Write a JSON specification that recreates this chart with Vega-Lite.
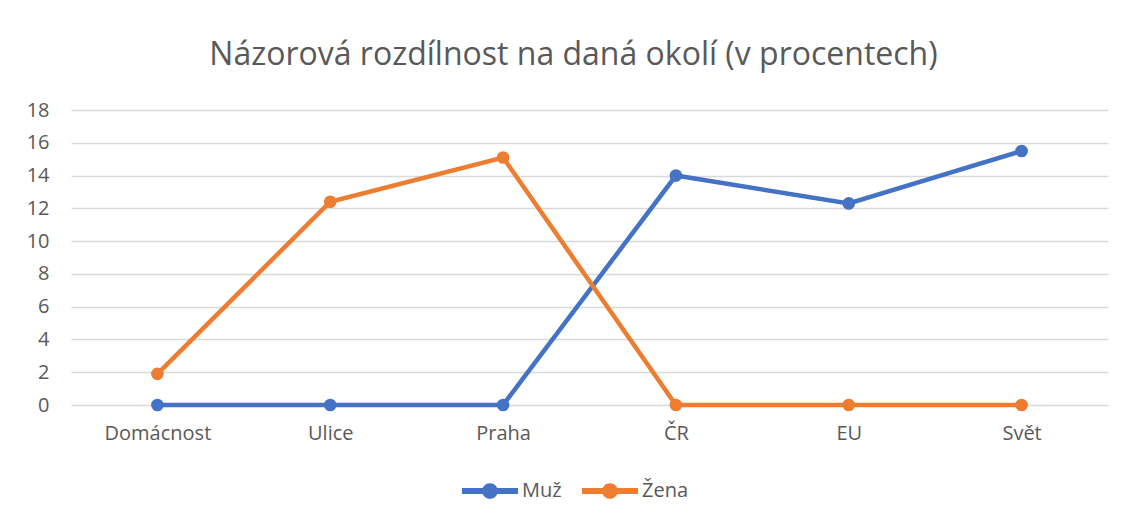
{
  "$schema": "https://vega.github.io/schema/vega-lite/v6.json",
  "autosize": {"type": "none"},
  "width": 1037,
  "height": 295,
  "padding": {"left": 71, "top": 110, "right": 19, "bottom": 115},
  "background": "white",
  "config": {
    "font": "Open Sans",
    "view": {"stroke": null},
    "axis": {"labelColor": "#595959", "labelFont": "Open Sans", "labelFontSize": 20, "ticks": false, "domain": false, "title": null},
    "legend": {"labelFont": "Open Sans"}
  },
  "title": {
    "text": "Názorová rozdílnost na daná okolí (v procentech)",
    "font": "Open Sans",
    "fontSize": 32,
    "fontWeight": "normal",
    "color": "#595959",
    "anchor": "middle",
    "dx": -16,
    "offset": 28
  },
  "data": {
    "values": [
      {"okoli": "Domácnost", "pohlavi": "Muž", "hodnota": 0},
      {"okoli": "Ulice", "pohlavi": "Muž", "hodnota": 0},
      {"okoli": "Praha", "pohlavi": "Muž", "hodnota": 0},
      {"okoli": "ČR", "pohlavi": "Muž", "hodnota": 14},
      {"okoli": "EU", "pohlavi": "Muž", "hodnota": 12.3},
      {"okoli": "Svět", "pohlavi": "Muž", "hodnota": 15.5},
      {"okoli": "Domácnost", "pohlavi": "Žena", "hodnota": 1.9},
      {"okoli": "Ulice", "pohlavi": "Žena", "hodnota": 12.4},
      {"okoli": "Praha", "pohlavi": "Žena", "hodnota": 15.1},
      {"okoli": "ČR", "pohlavi": "Žena", "hodnota": 0},
      {"okoli": "EU", "pohlavi": "Žena", "hodnota": 0},
      {"okoli": "Svět", "pohlavi": "Žena", "hodnota": 0}
    ]
  },
  "mark": {"type": "line", "strokeWidth": 4.5, "point": {"filled": true, "size": 160, "opacity": 1}},
  "encoding": {
    "x": {
      "field": "okoli",
      "type": "ordinal",
      "sort": ["Domácnost", "Ulice", "Praha", "ČR", "EU", "Svět"],
      "scale": {"type": "point", "padding": 0.5},
      "axis": {"labelAngle": 0, "grid": false, "labelPadding": 18}
    },
    "y": {
      "field": "hodnota",
      "type": "quantitative",
      "scale": {"domain": [0, 18], "nice": false},
      "axis": {"values": [0, 2, 4, 6, 8, 10, 12, 14, 16, 18], "gridColor": "#D9D9D9", "gridWidth": 1.3, "labelPadding": 22}
    },
    "color": {
      "field": "pohlavi",
      "type": "nominal",
      "scale": {"domain": ["Muž", "Žena"], "range": ["#4472C4", "#ED7D31"]},
      "legend": {
        "title": null,
        "orient": "none",
        "direction": "horizontal",
        "legendX": 391,
        "legendY": 353,
        "labelFontSize": 20,
        "labelColor": "#595959",
        "labelOffset": 4,
        "columnPadding": 20,
        "symbolSize": 3136,
        "symbolStrokeWidth": 0,
        "symbolType": "M-1,-0.11L1,-0.11L1,0.11L-1,0.11Z M-0.28,0A0.28,0.28 0 1,1 0.28,0A0.28,0.28 0 1,1 -0.28,0Z",
        "encode": {
          "symbols": {"update": {"fill": {"scale": "color", "field": "value"}, "stroke": {"value": "transparent"}, "opacity": {"value": 1}}}
        }
      }
    }
  }
}
